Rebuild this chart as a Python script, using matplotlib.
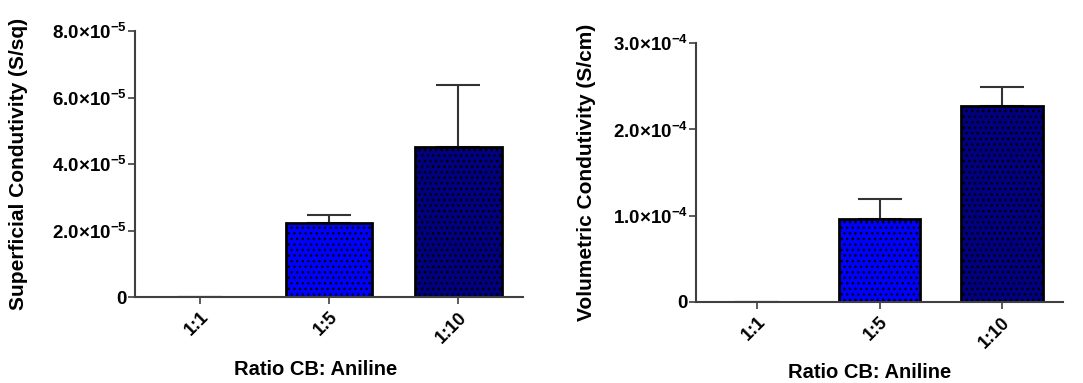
import matplotlib
matplotlib.use("Agg")
import matplotlib.pyplot as plt

plt.rcParams['font.family'] = ['Liberation Sans', 'DejaVu Sans']
plt.rcParams['font.weight'] = 'bold'
plt.rcParams['mathtext.fontset'] = 'custom'
plt.rcParams['mathtext.rm'] = 'Liberation Sans:bold'
plt.rcParams['mathtext.bf'] = 'Liberation Sans:bold'
plt.rcParams['hatch.linewidth'] = 1.0
plt.rcParams['hatch.color'] = 'black'

ratios = ['1:1', '1:5', '1:10']
colors = ['#0000ff', '#0000ff', '#000080']

sup_cond = [0, 2.23e-5, 4.51e-5]
sup_err = [0, 0.24e-5, 1.87e-5]
sup_ticks = [0, 2e-5, 4e-5, 6e-5, 8e-5]
sup_labels = ['0', '2.0×10$^{-5}$', '4.0×10$^{-5}$', '6.0×10$^{-5}$', '8.0×10$^{-5}$']

vol_cond = [0, 0.96e-4, 2.27e-4]
vol_err = [0, 0.23e-4, 0.22e-4]
vol_ticks = [0, 1e-4, 2e-4, 3e-4]
vol_labels = ['0', '1.0×10$^{-4}$', '2.0×10$^{-4}$', '3.0×10$^{-4}$']

fig = plt.figure(figsize=(10.83, 3.83), dpi=100)
ax1 = fig.add_axes([0.1247, 0.2245, 0.3583, 0.6945])
ax2 = fig.add_axes([0.6427, 0.2115, 0.3388, 0.6762])

def draw(ax, vals, errs, ticks, labels, ylabel):
    x = range(len(ratios))
    ax.bar(x, vals, width=0.67, color=colors, edgecolor='black', linewidth=2,
           hatch='...', zorder=2)
    ax.errorbar(x, vals, yerr=[[0] * len(errs), errs], fmt='none', ecolor='#333333',
                elinewidth=1.5, capsize=16, capthick=1.5, zorder=1)
    ax.set_xlim(-0.5, 2.5)
    ax.set_ylim(0, ticks[-1])
    ax.set_yticks(ticks)
    ax.set_yticklabels(labels, fontsize=13.5)
    ax.set_xticks(list(x))
    ax.set_xticklabels(ratios, fontsize=13, rotation=45, ha='right',
                       rotation_mode='anchor')
    for s in ['top', 'right']:
        ax.spines[s].set_visible(False)
    for s in ['left', 'bottom']:
        ax.spines[s].set_color('#404040')
        ax.spines[s].set_linewidth(1.5)
    ax.tick_params(colors='#404040', labelcolor='black', width=1.2, length=5)
    ax.tick_params(axis='y', pad=1)
    ax.set_xlabel('Ratio CB: Aniline', fontsize=14.5, fontweight='bold', va='top')
    ax.set_ylabel(ylabel, fontsize=15, fontweight='bold')

draw(ax1, sup_cond, sup_err, sup_ticks, sup_labels, 'Superficial Condutivity (S/sq)')
draw(ax2, vol_cond, vol_err, vol_ticks, vol_labels, 'Volumetric Condutivity (S/cm)')
ax1.yaxis.set_label_coords(-0.275, 0.5)
ax2.yaxis.set_label_coords(-0.272, 0.5)
ax1.xaxis.set_label_coords(0.465, -0.237)
ax2.xaxis.set_label_coords(0.474, -0.235)

fig.savefig('out.png', dpi=100)
